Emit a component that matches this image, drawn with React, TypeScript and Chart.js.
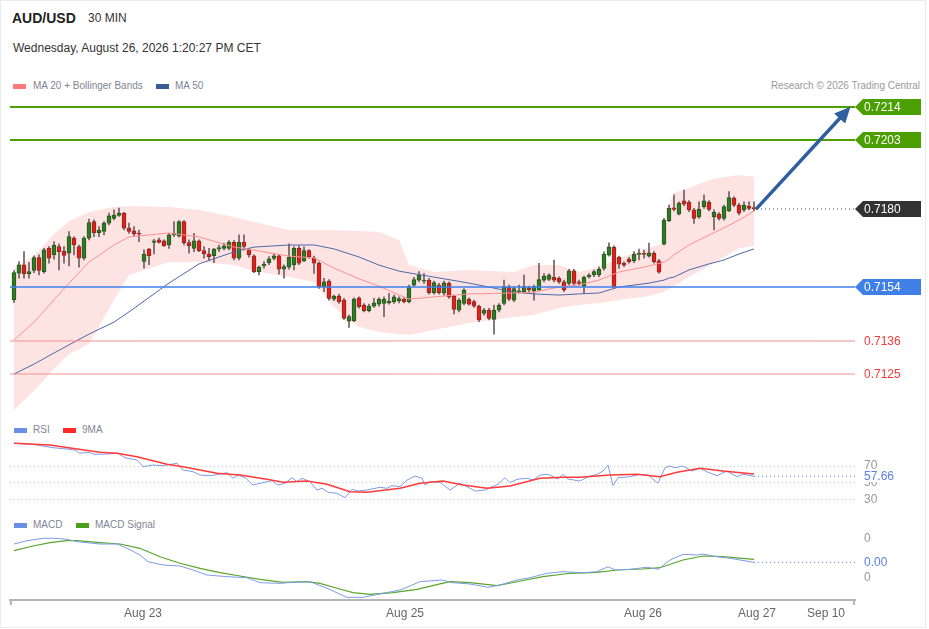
import React, { useEffect, useRef } from "react";
import { Chart, registerables } from "chart.js";

Chart.register(...registerables);

const FONT = "'Liberation Sans', Arial, Helvetica, sans-serif";
Chart.defaults.font.family = FONT;

// ---------------- data ----------------
const candleOpen = [
  0.71497, 0.71586, 0.71614, 0.71584, 0.71595, 0.71638, 0.71591, 0.71669, 0.71647, 0.71675,
  0.7166, 0.71653, 0.71703, 0.71675, 0.71636, 0.71703, 0.71758, 0.71721, 0.71725, 0.71753,
  0.71769, 0.71779, 0.71786, 0.71736, 0.71727, 0.7172, 0.71625, 0.71666, 0.71689, 0.71697,
  0.71694, 0.7168, 0.71714, 0.7171, 0.71758, 0.71688, 0.71669, 0.71694, 0.71661, 0.7165,
  0.71644, 0.71666, 0.71669, 0.71669, 0.71689, 0.71636, 0.71689, 0.71664, 0.71644, 0.71591,
  0.7161, 0.71621, 0.71635, 0.71644, 0.71599, 0.71606, 0.71614, 0.71669, 0.71627, 0.71661,
  0.71637, 0.71619, 0.71541, 0.7156, 0.71499, 0.7151, 0.71496, 0.71426, 0.71427, 0.71504,
  0.7148, 0.71461, 0.71476, 0.71483, 0.71485, 0.71487, 0.71491, 0.71494, 0.715, 0.71491,
  0.71546, 0.71563, 0.71559, 0.71563, 0.71521, 0.71546, 0.71519, 0.71552, 0.7151, 0.71463,
  0.71485, 0.71499, 0.71491, 0.71476, 0.71452, 0.71463, 0.71432, 0.71463, 0.71485, 0.71539,
  0.71496, 0.71524, 0.71524, 0.71537, 0.71527, 0.7153, 0.71563, 0.71565, 0.71572, 0.71569,
  0.71557, 0.71552, 0.71594, 0.71557, 0.71543, 0.71574, 0.7158, 0.7158, 0.71602, 0.71646,
  0.71672, 0.71639, 0.71619, 0.71632, 0.71628, 0.71649, 0.7165, 0.71643, 0.71652, 0.71627,
  0.71683, 0.71761, 0.71804, 0.71783, 0.71827, 0.71822, 0.71797, 0.71774, 0.71808, 0.71822,
  0.71774, 0.71783, 0.71769, 0.71794, 0.71836, 0.71813, 0.71797, 0.7181, 0.71804,
];
const candleHigh = [
  0.71595, 0.71625, 0.71658, 0.71621, 0.71644, 0.71647, 0.71669, 0.71675, 0.71691, 0.71684,
  0.71675, 0.71725, 0.71708, 0.7168, 0.71708, 0.71766, 0.71764, 0.71741, 0.71758, 0.71786,
  0.71797, 0.71803, 0.71789, 0.71753, 0.71741, 0.7173, 0.71664, 0.71669, 0.71699, 0.71703,
  0.71697, 0.71719, 0.71758, 0.71761, 0.71761, 0.71697, 0.71719, 0.71697, 0.71675, 0.71669,
  0.71669, 0.7168, 0.71686, 0.71695, 0.71695, 0.71714, 0.71714, 0.71669, 0.71647, 0.7161,
  0.71625, 0.71641, 0.7165, 0.71647, 0.71614, 0.71684, 0.71675, 0.71677, 0.71674, 0.71665,
  0.71643, 0.71624, 0.71569, 0.71565, 0.71513, 0.71516, 0.71502, 0.71446, 0.71504, 0.71507,
  0.71485, 0.71483, 0.71502, 0.71505, 0.71507, 0.71519, 0.71513, 0.71507, 0.71505, 0.71546,
  0.71572, 0.71591, 0.71585, 0.71569, 0.7156, 0.71552, 0.7156, 0.71557, 0.71513, 0.71501,
  0.71535, 0.71504, 0.71496, 0.7148, 0.71469, 0.71469, 0.7148, 0.71485, 0.71563, 0.71546,
  0.71541, 0.71546, 0.7158, 0.71543, 0.71546, 0.71619, 0.71585, 0.71585, 0.7163, 0.71574,
  0.71563, 0.71599, 0.71599, 0.71563, 0.71576, 0.71585, 0.71596, 0.71607, 0.71657, 0.71687,
  0.71677, 0.71643, 0.71624, 0.71639, 0.71658, 0.71666, 0.71663, 0.71686, 0.71658, 0.71632,
  0.71769, 0.71813, 0.71847, 0.71824, 0.71863, 0.71828, 0.71802, 0.71824, 0.71847, 0.71828,
  0.71797, 0.71788, 0.71813, 0.71858, 0.71841, 0.71819, 0.71824, 0.71824, 0.71824,
];
const candleLow = [
  0.71488, 0.71569, 0.71569, 0.71569, 0.71588, 0.7158, 0.71586, 0.71619, 0.71633, 0.71597,
  0.71619, 0.7161, 0.71647, 0.71606, 0.7163, 0.71697, 0.71708, 0.71708, 0.71714, 0.71747,
  0.71764, 0.71775, 0.7173, 0.71719, 0.7171, 0.71691, 0.71603, 0.71614, 0.7165, 0.71686,
  0.71675, 0.71669, 0.71708, 0.71706, 0.7168, 0.71653, 0.71658, 0.71658, 0.71636, 0.7163,
  0.71621, 0.71658, 0.71664, 0.71664, 0.7163, 0.7163, 0.71664, 0.71639, 0.71588, 0.7158,
  0.71603, 0.71614, 0.7163, 0.71583, 0.71569, 0.71599, 0.71597, 0.71614, 0.71624, 0.71635,
  0.71585, 0.71535, 0.71524, 0.71496, 0.71494, 0.71485, 0.71432, 0.71405, 0.71424, 0.71469,
  0.71457, 0.71457, 0.71472, 0.71476, 0.71441, 0.71483, 0.71485, 0.71487, 0.71487, 0.71487,
  0.71541, 0.71557, 0.71552, 0.71516, 0.71516, 0.71516, 0.71513, 0.71502, 0.7145, 0.71457,
  0.7148, 0.71479, 0.71472, 0.71424, 0.71446, 0.7143, 0.71383, 0.71457, 0.7148, 0.71494,
  0.71491, 0.71519, 0.71519, 0.71524, 0.71496, 0.71527, 0.71557, 0.71561, 0.71557, 0.71552,
  0.71524, 0.71546, 0.71546, 0.71546, 0.71519, 0.71569, 0.71574, 0.71574, 0.71596, 0.71643,
  0.71536, 0.71602, 0.71608, 0.71619, 0.71621, 0.7163, 0.71636, 0.71639, 0.71619, 0.71586,
  0.7168, 0.71758, 0.71794, 0.7178, 0.7181, 0.71791, 0.71752, 0.71769, 0.71802, 0.71794,
  0.7173, 0.71763, 0.71763, 0.71791, 0.71808, 0.7178, 0.71791, 0.71797, 0.71794,
];
const candleClose = [
  0.71588, 0.71614, 0.71584, 0.71591, 0.71638, 0.71595, 0.71664, 0.71636, 0.7168, 0.71658,
  0.71645, 0.71708, 0.7168, 0.71636, 0.71703, 0.71755, 0.71721, 0.7173, 0.71753, 0.71777,
  0.7178, 0.71786, 0.71736, 0.71725, 0.71717, 0.71716, 0.7165, 0.71644, 0.71694, 0.71689,
  0.71678, 0.71714, 0.71719, 0.71758, 0.71688, 0.71677, 0.71694, 0.71661, 0.7165, 0.71641,
  0.71666, 0.71671, 0.71677, 0.71689, 0.71636, 0.71689, 0.71675, 0.71647, 0.71591, 0.71606,
  0.71616, 0.71634, 0.71644, 0.71599, 0.71608, 0.71639, 0.71669, 0.71619, 0.71661, 0.71641,
  0.71619, 0.71541, 0.71557, 0.71502, 0.7151, 0.71491, 0.71435, 0.71441, 0.715, 0.71474,
  0.71461, 0.71476, 0.71487, 0.71499, 0.715, 0.71493, 0.71507, 0.71501, 0.71491, 0.71541,
  0.71565, 0.7158, 0.71563, 0.71521, 0.71555, 0.71521, 0.71554, 0.71507, 0.71465, 0.71496,
  0.7153, 0.71483, 0.71476, 0.7143, 0.71463, 0.71435, 0.71463, 0.7148, 0.71541, 0.71499,
  0.71535, 0.71527, 0.71541, 0.7153, 0.71541, 0.71565, 0.71576, 0.7158, 0.71563, 0.71557,
  0.7153, 0.71594, 0.71552, 0.71552, 0.71572, 0.7158, 0.71591, 0.71599, 0.7165, 0.71674,
  0.71539, 0.71616, 0.71613, 0.71624, 0.7165, 0.71652, 0.71649, 0.71654, 0.71624, 0.71589,
  0.71763, 0.71802, 0.71799, 0.71819, 0.71816, 0.71797, 0.71769, 0.718, 0.71827, 0.71799,
  0.71789, 0.71769, 0.71808, 0.71838, 0.71813, 0.71786, 0.71813, 0.71802, 0.71801,
];

// indicator sample positions (candle index) and values
const bandIdx = [0, 4, 8, 11, 15, 20, 23, 31, 37, 44, 48, 55, 60, 64, 69, 73, 77, 79, 84, 91, 100, 104, 109, 113, 117, 121, 127, 130, 131, 132, 135, 139, 142, 145, 148];
const bbUpper = [0.71603, 0.71643, 0.71717, 0.7176, 0.7179, 0.71807, 0.7181, 0.71807, 0.71797, 0.71773, 0.71757, 0.7173, 0.7173, 0.7173, 0.71727, 0.71723, 0.71697, 0.71613, 0.7159, 0.71597, 0.7159, 0.71613, 0.71613, 0.7159, 0.71607, 0.71637, 0.7167, 0.71687, 0.71813, 0.71853, 0.7187, 0.71897, 0.71907, 0.71913, 0.71907];
const bbLower = [0.7113, 0.71193, 0.71267, 0.71317, 0.7135, 0.71497, 0.7158, 0.71623, 0.71623, 0.71613, 0.71593, 0.71573, 0.71557, 0.71473, 0.71407, 0.7139, 0.71383, 0.7138, 0.71397, 0.7142, 0.7144, 0.71447, 0.7147, 0.7148, 0.71487, 0.71497, 0.7151, 0.71523, 0.71533, 0.71543, 0.71573, 0.7161, 0.7164, 0.7167, 0.71677];
const ma20 = [0.71363, 0.71423, 0.71497, 0.71553, 0.71623, 0.7168, 0.71707, 0.7172, 0.71707, 0.71673, 0.71663, 0.71643, 0.71637, 0.71603, 0.71567, 0.71543, 0.71513, 0.715, 0.71507, 0.71517, 0.7152, 0.71523, 0.7154, 0.71547, 0.71563, 0.7159, 0.7161, 0.71623, 0.71633, 0.71647, 0.7168, 0.71713, 0.71737, 0.71763, 0.71793];
const ma50 = [0.7125, 0.71283, 0.7132, 0.71347, 0.71383, 0.71423, 0.71457, 0.71553, 0.71617, 0.71657, 0.71673, 0.7168, 0.7168, 0.71667, 0.7164, 0.71613, 0.71593, 0.71587, 0.71573, 0.71553, 0.71523, 0.71517, 0.71513, 0.71517, 0.7152, 0.7154, 0.71553, 0.71563, 0.7157, 0.71573, 0.71597, 0.71617, 0.7163, 0.7165, 0.71667];

const targetLevels = [0.7214, 0.7203];
const lastPrice = 0.718;
const pivotLevel = 0.7154;
const supportLevels = [0.7136, 0.7125];
const arrowFrom = { x: 148.6, y: 0.71803 };
const arrowTo = { x: 167.3, y: 0.72141 };

const rsiIdx = [0, 3.8, 5.8, 7.8, 10.6, 12.2, 13.2, 14.8, 16.2, 18.6, 20.8, 22.2, 24.6, 25.8, 27.8, 29.8, 32.6, 33.8, 35.8, 37.2, 39.2, 41.2, 42.6, 43.8, 44.8, 46.2, 47.8, 49.2, 50.6, 51.6, 52.8, 54.2, 55.6, 56.6, 57.6, 59.2, 60.6, 61.6, 62.8, 64.6, 66.2, 67.6, 68.8, 70.6, 73.2, 74.6, 75.6, 77.2, 78.6, 80.2, 81.6, 82.2, 83.2, 85.2, 87.2, 89.2, 90.6, 92.2, 94.2, 95.6, 96.8, 98.2, 99.2, 100.6, 102.6, 103.8, 105.2, 106.8, 108.8, 109.8, 110.8, 113.2, 114.8, 116.6, 117.8, 118.8, 119.8, 120.8, 123.2, 125.2, 126.8, 128.8, 130.2, 131.2, 132.2, 133.8, 135.6, 137.2, 138.8, 140.6, 142.6, 144.6, 145.8, 148];
const rsiVal = [97.3, 96.1, 94.0, 92.0, 90.4, 89.2, 85.3, 86.5, 84.1, 84.4, 85.3, 80.0, 77.2, 69.2, 71.2, 70.4, 73.3, 65.2, 63.2, 59.2, 58.4, 60.4, 62.0, 55.3, 59.2, 56.0, 47.2, 49.3, 51.2, 52.4, 47.2, 49.3, 56.0, 51.2, 55.3, 51.2, 41.2, 43.3, 38.5, 37.3, 32.0, 42.1, 40.0, 41.2, 44.5, 43.3, 46.4, 45.2, 53.2, 58.0, 55.3, 47.2, 51.2, 50.5, 41.2, 49.3, 45.2, 40.0, 41.2, 45.2, 48.1, 56.0, 50.0, 54.1, 55.3, 53.2, 59.2, 60.1, 54.4, 60.1, 54.4, 52.0, 57.2, 60.1, 64.0, 71.2, 46.4, 56.0, 57.2, 60.1, 59.2, 49.3, 68.0, 70.0, 68.0, 70.0, 64.0, 67.3, 62.5, 58.4, 64.0, 57.2, 60.1, 57.66];
const rsiMaIdx = [0, 7.2, 12.6, 17.2, 20.6, 24.6, 30.6, 33.8, 40.6, 45.2, 50.6, 53.8, 58.6, 62.6, 67.2, 70.6, 77.2, 81.2, 85.8, 89.8, 94.6, 99.2, 105.2, 109.8, 113.2, 119.2, 124.6, 129.2, 132.6, 137.2, 141.8, 148];
const rsiMaVal = [97.3, 95.2, 90.4, 86.5, 85.3, 81.2, 72.1, 69.2, 61.3, 59.2, 54.1, 50.5, 52.0, 48.1, 39.2, 38.5, 43.3, 49.3, 52.0, 47.2, 43.3, 46.0, 55.3, 56.5, 56.5, 59.2, 60.1, 57.2, 62.5, 67.3, 64.0, 60.4];
const rsiTicks = [30, 50, 70];

const macdIdx = [0, 2.6, 5.8, 8.2, 10.6, 12.6, 17.2, 20.6, 22.6, 25.2, 26.8, 29.8, 33.2, 35.8, 38.6, 42.6, 46.6, 49.2, 53.2, 55.8, 59.2, 62.6, 66.6, 69.8, 73.8, 77.2, 81.2, 85.6, 87.8, 91.2, 94.8, 97.2, 100.6, 103.2, 106.6, 109.8, 113.8, 116.6, 118.8, 120.2, 123.2, 126.6, 128.8, 131.2, 133.8, 136.6, 137.8, 140.6, 143.2, 148];
const macdVal = [0.000297, 0.000365, 0.000414, 0.000414, 0.000394, 0.000345, 0.000297, 0.000297, 0.000209, 0.000072, -0.000066, -0.000133, -0.000154, -0.000236, -0.000338, -0.000373, -0.000394, -0.000496, -0.000509, -0.000488, -0.000476, -0.000611, -0.000796, -0.000796, -0.000714, -0.000646, -0.000476, -0.000441, -0.000496, -0.000523, -0.000591, -0.000543, -0.000441, -0.000394, -0.000303, -0.000271, -0.000291, -0.000271, -0.000168, -0.000236, -0.000221, -0.00018, -0.000221, -0.000031, 0.000086, 0.000072, 0.000092, 0.000037, 0.000004, -0.000078];
const signalIdx = [0, 3.8, 7.2, 10.6, 12.6, 17.2, 21.2, 25.2, 29.2, 33.2, 37.2, 41.2, 45.2, 49.2, 53.8, 58.6, 61.2, 64.6, 67.8, 71.2, 75.8, 80.6, 85.2, 87.2, 91.2, 96.6, 100.6, 105.8, 111.2, 116.6, 120.6, 125.8, 129.2, 133.8, 137.8, 141.8, 148];
const signalVal = [0.00016, 0.000256, 0.000324, 0.000365, 0.000365, 0.000324, 0.000297, 0.000209, 0.000037, -0.000098, -0.000201, -0.000291, -0.000359, -0.000427, -0.000488, -0.000476, -0.000509, -0.000611, -0.000701, -0.000734, -0.000701, -0.000632, -0.00052, -0.000476, -0.000496, -0.000558, -0.000476, -0.000373, -0.000303, -0.000283, -0.000236, -0.000215, -0.000189, -0.000031, 0.000051, 0.000037, -0.000016];
const macdTicks = [0.0004, -0.0004];

const xTickPos = [25.8, 78.2, 125.8, 148.6, 162.4];
const xTickLabels = ["Aug 23", "Aug 25", "Aug 26", "Aug 27", "Sep 10"];

const X_MIN = -0.8;
const X_MAX = 168.2;
const PRICE_MIN = 0.711233;
const PRICE_MAX = 0.7217;
const RSI_MIN = 17.24;
const RSI_MAX = 106.04;
const MACD_MIN = -0.000851;
const MACD_MAX = 0.000523;

// ---------------- helpers ----------------
const pts = (idx: number[], vals: number[]) => idx.map((x, i) => ({ x, y: vals[i] }));
const hline = (v: number, x0: number = X_MIN, x1: number = X_MAX) => [
  { x: x0, y: v },
  { x: x1, y: v },
];
const lineDs = (data: any, color: string, width: number, order: number, extra: any = {}) => ({
  type: "line",
  data,
  borderColor: color,
  borderWidth: width,
  pointRadius: 0,
  tension: 0,
  fill: false,
  order,
  ...extra,
});

const baseOptions = (extra: any) => ({
  animation: false,
  responsive: false,
  maintainAspectRatio: false,
  events: [],
  plugins: { legend: { display: false }, tooltip: { enabled: false } },
  ...extra,
});

const TAG_RIGHT = 921;

function priceConfig(): any {
  const idx = candleClose.map((_, i) => i);
  const up = (i: number) => candleClose[i] >= candleOpen[i];
  const tagPlugin = {
    id: "priceTags",
    afterDraw(chart: any) {
      const { ctx, chartArea, scales } = chart;
      const y = scales.y;
      const x = scales.x;
      ctx.save();
      const drawTag = (v: number, bg: string) => {
        const py = Math.round(y.getPixelForValue(v));
        const x0 = chartArea.right;
        ctx.fillStyle = bg;
        ctx.beginPath();
        ctx.moveTo(x0, py);
        ctx.lineTo(x0 + 8, py - 8);
        ctx.lineTo(TAG_RIGHT, py - 8);
        ctx.lineTo(TAG_RIGHT, py + 8);
        ctx.lineTo(x0 + 8, py + 8);
        ctx.closePath();
        ctx.fill();
        ctx.fillStyle = "#ffffff";
        ctx.font = `12px ${FONT}`;
        ctx.textBaseline = "middle";
        ctx.textAlign = "left";
        ctx.fillText(v.toFixed(4), x0 + 9, py + 1);
      };
      targetLevels.forEach((v) => drawTag(v, "#4b9f00"));
      drawTag(lastPrice, "#333333");
      drawTag(pivotLevel, "#3f7fe8");
      supportLevels.forEach((v) => {
        const py = Math.round(y.getPixelForValue(v));
        ctx.fillStyle = "#f03c3c";
        ctx.font = `12px ${FONT}`;
        ctx.textBaseline = "middle";
        ctx.fillText(v.toFixed(4), chartArea.right + 9, py + 1);
      });
      // arrow
      const p0 = { x: x.getPixelForValue(arrowFrom.x), y: y.getPixelForValue(arrowFrom.y) };
      const p1 = { x: x.getPixelForValue(arrowTo.x), y: y.getPixelForValue(arrowTo.y) };
      const dx = p1.x - p0.x;
      const dy = p1.y - p0.y;
      const len = Math.hypot(dx, dy);
      const ux = dx / len;
      const uy = dy / len;
      const headLen = 16;
      const headHalf = 7.5;
      const bx = p1.x - ux * headLen;
      const by = p1.y - uy * headLen;
      ctx.strokeStyle = "#2f5f9f";
      ctx.lineWidth = 3.5;
      ctx.lineCap = "round";
      ctx.beginPath();
      ctx.moveTo(p0.x, p0.y);
      ctx.lineTo(bx + ux * 2, by + uy * 2);
      ctx.stroke();
      ctx.fillStyle = "#2f5f9f";
      ctx.beginPath();
      ctx.moveTo(p1.x, p1.y);
      ctx.lineTo(bx - uy * headHalf, by + ux * headHalf);
      ctx.lineTo(bx + uy * headHalf, by - ux * headHalf);
      ctx.closePath();
      ctx.fill();
      ctx.restore();
    },
  };
  return {
    type: "line",
    data: {
      datasets: [
        lineDs(pts(bandIdx, bbUpper), "rgba(0,0,0,0)", 0, 10),
        lineDs(pts(bandIdx, bbLower), "rgba(0,0,0,0)", 0, 10, {
          fill: "-1",
          backgroundColor: "rgba(248,80,80,0.16)",
        }),
        {
          type: "bar",
          data: idx.map((i) => ({ x: i, y: [candleLow[i], candleHigh[i]] })),
          backgroundColor: "#6e5f5f",
          barThickness: 1,
          grouped: false,
          order: 6,
        },
        {
          type: "bar",
          data: idx.map((i) => ({ x: i, y: [candleOpen[i], candleClose[i]] })),
          backgroundColor: idx.map((i) => (up(i) ? "#2c7d22" : "#e61e1a")),
          borderColor: idx.map((i) => (up(i) ? "#27561d" : "#8a2a22")),
          borderWidth: 1,
          borderSkipped: false,
          barThickness: 4,
          minBarLength: 1,
          grouped: false,
          order: 5,
        },
        lineDs(pts(bandIdx, ma20), "#ff8f8f", 1, 4),
        lineDs(pts(bandIdx, ma50), "#4a68a8", 1, 4),
        ...targetLevels.map((v) => lineDs(hline(v), "#4ea000", 2, 2)),
        lineDs(hline(pivotLevel), "#3f80ee", 1.5, 2),
        ...supportLevels.map((v) => lineDs(hline(v), "#f29090", 1, 2)),
        lineDs(hline(lastPrice, arrowFrom.x, X_MAX), "#444444", 1, 2, { borderDash: [1, 3] }),
      ],
    },
    options: baseOptions({
      layout: { padding: { left: 10, right: 74, top: 0, bottom: 0 } },
      scales: {
        x: { type: "linear", min: X_MIN, max: X_MAX, display: false, offset: false },
        y: { type: "linear", min: PRICE_MIN, max: PRICE_MAX, display: false },
      },
    }),
    plugins: [tagPlugin],
  };
}

const valueLabelPlugin = (id: string, value: number, text: string, color: string) => ({
  id,
  afterDraw(chart: any) {
    const { ctx, chartArea, scales } = chart;
    const py = Math.round(scales.y.getPixelForValue(value));
    ctx.save();
    ctx.font = `12px ${FONT}`;
    ctx.textBaseline = "middle";
    ctx.textAlign = "left";
    const w = ctx.measureText(text).width;
    ctx.fillStyle = "#ffffff";
    ctx.fillRect(chartArea.right + 7, py - 6, w + 4, 12);
    ctx.fillStyle = color;
    ctx.fillText(text, chartArea.right + 9, py + 1);
    ctx.restore();
  },
});

// right axis of fixed width, with no extra top/bottom padding
const fixRightAxis = (s: any) => {
  s.width = 74;
  s.paddingTop = 0;
  s.paddingBottom = 0;
};

function rsiConfig(): any {
  const lastX = rsiIdx[rsiIdx.length - 1];
  const lastV = rsiVal[rsiVal.length - 1];
  return {
    type: "line",
    data: {
      datasets: [
        lineDs(pts(rsiIdx, rsiVal), "#7d9ce8", 1, 2),
        lineDs(pts(rsiMaIdx, rsiMaVal), "#ff3a3a", 1.5, 1),
        lineDs(hline(lastV, lastX, X_MAX), "#5b80e8", 1, 3, { borderDash: [1, 3] }),
      ],
    },
    options: baseOptions({
      layout: { padding: { left: 10, right: 0, top: 0, bottom: 0 } },
      scales: {
        x: { type: "linear", min: X_MIN, max: X_MAX, display: false, offset: false },
        y: {
          type: "linear",
          position: "right",
          min: RSI_MIN,
          max: RSI_MAX,
          afterBuildTicks: (s: any) => {
            s.ticks = rsiTicks.map((v) => ({ value: v }));
          },
          afterFit: fixRightAxis,
          ticks: { color: "#999999", font: { size: 12 }, padding: 9, callback: (v: any) => String(v) },
          grid: { color: "#c4c4c4", drawTicks: false, lineWidth: 1 },
          border: { display: false, dash: [1, 3] },
        },
      },
    }),
    plugins: [valueLabelPlugin("rsiLast", lastV, lastV.toFixed(2), "#5b80e8")],
  };
}

function macdConfig(): any {
  const lastX = macdIdx[macdIdx.length - 1];
  const lastV = macdVal[macdVal.length - 1];
  const endTicks = {
    id: "axisEnds",
    afterDraw(chart: any) {
      const { ctx, chartArea } = chart;
      ctx.save();
      ctx.strokeStyle = "#b5b5b5";
      ctx.lineWidth = 2;
      ctx.beginPath();
      ctx.moveTo(chartArea.left + 1, chartArea.bottom);
      ctx.lineTo(chartArea.left + 1, chartArea.bottom + 5);
      ctx.moveTo(chartArea.right - 1, chartArea.bottom);
      ctx.lineTo(chartArea.right - 1, chartArea.bottom + 5);
      ctx.stroke();
      ctx.restore();
    },
  };
  return {
    type: "line",
    data: {
      datasets: [
        lineDs(pts(macdIdx, macdVal), "#7d9ce8", 1, 1),
        lineDs(pts(signalIdx, signalVal), "#5aa62a", 1.2, 2),
        lineDs(hline(lastV, lastX, X_MAX), "#5b80e8", 1, 3, { borderDash: [1, 3] }),
      ],
    },
    options: baseOptions({
      layout: { padding: { left: 10, right: 0, top: 0, bottom: 0 } },
      scales: {
        x: {
          type: "linear",
          min: X_MIN,
          max: X_MAX,
          offset: false,
          position: "bottom",
          afterBuildTicks: (s: any) => {
            s.ticks = xTickPos.map((v) => ({ value: v }));
          },
          afterFit: (s: any) => {
            s.height = 29;
            s.paddingLeft = 0;
            s.paddingRight = 0;
          },
          ticks: {
            color: "#666666",
            font: { size: 12 },
            padding: 6,
            maxRotation: 0,
            autoSkip: false,
            callback: (_v: any, i: number) => xTickLabels[i],
          },
          grid: { display: false, drawTicks: false },
          border: { display: true, color: "#b5b5b5", width: 2 },
        },
        y: {
          type: "linear",
          position: "right",
          min: MACD_MIN,
          max: MACD_MAX,
          afterBuildTicks: (s: any) => {
            s.ticks = macdTicks.map((v) => ({ value: v }));
          },
          afterFit: fixRightAxis,
          ticks: {
            color: "#999999",
            font: { size: 12 },
            padding: 9,
            callback: (v: any) => String(Math.round(Number(v))),
          },
          grid: { display: false, drawTicks: false },
          border: { display: false },
        },
      },
    }),
    plugins: [
      valueLabelPlugin("macdLast", lastV, (Math.round(lastV * 100) / 100).toFixed(2), "#5b80e8"),
      endTicks,
    ],
  };
}

// ---------------- component ----------------
const abs = (style: React.CSSProperties): React.CSSProperties => ({ position: "absolute", whiteSpace: "nowrap", ...style });

function Swatch({ left, top, color }: { left: number; top: number; color: string }) {
  return <div style={abs({ left, top, width: 13, height: 5, background: color })} />;
}

export default function App() {
  const priceRef = useRef<HTMLCanvasElement>(null);
  const rsiRef = useRef<HTMLCanvasElement>(null);
  const macdRef = useRef<HTMLCanvasElement>(null);

  useEffect(() => {
    document.body.style.margin = "0";
    const charts = [
      new Chart(priceRef.current as HTMLCanvasElement, priceConfig()),
      new Chart(rsiRef.current as HTMLCanvasElement, rsiConfig()),
      new Chart(macdRef.current as HTMLCanvasElement, macdConfig()),
    ];
    return () => charts.forEach((c) => c.destroy());
  }, []);

  const legendText: React.CSSProperties = { fontSize: 10, color: "#7f8593", lineHeight: "10px" };

  return (
    <div
      style={{
        position: "relative",
        width: 929,
        height: 629,
        overflow: "hidden",
        background: "#ffffff",
        fontFamily: FONT,
      }}
    >
      <div style={abs({ left: 0, top: 0, width: 924, height: 626, border: "1px solid #e8ecf1" })} />
      <div style={abs({ left: 12, top: 11, fontSize: 14, fontWeight: 700, color: "#222", lineHeight: "14px" })}>AUD/USD</div>
      <div style={abs({ left: 88, top: 12, fontSize: 12, color: "#333", lineHeight: "12px" })}>30 MIN</div>
      <div style={abs({ left: 13, top: 42, fontSize: 12, color: "#333", lineHeight: "12px" })}>
        Wednesday, August 26, 2026 1:20:27 PM CET
      </div>

      <Swatch left={13} top={84} color="#ff7a7a" />
      <div style={abs({ left: 33, top: 81, ...legendText })}>MA 20 + Bollinger Bands</div>
      <Swatch left={156} top={84} color="#3a5a98" />
      <div style={abs({ left: 175, top: 81, ...legendText })}>MA 50</div>
      <div style={abs({ right: 9, top: 81, ...legendText, color: "#9a9a9a" })}>Research © 2026 Trading Central</div>

      <canvas ref={priceRef} width={929} height={314} style={{ position: "absolute", left: 0, top: 98, width: 929, height: 314 }} />

      <Swatch left={14} top={428} color="#6a8fe6" />
      <div style={abs({ left: 33, top: 425, ...legendText })}>RSI</div>
      <Swatch left={63} top={428} color="#ff2a2a" />
      <div style={abs({ left: 82, top: 425, ...legendText })}>9MA</div>
      <canvas ref={rsiRef} width={929} height={74} style={{ position: "absolute", left: 0, top: 436, width: 929, height: 74 }} />

      <Swatch left={14} top={523} color="#6a8fe6" />
      <div style={abs({ left: 33, top: 520, ...legendText })}>MACD</div>
      <Swatch left={76} top={523} color="#4a9e1c" />
      <div style={abs({ left: 95, top: 520, ...legendText })}>MACD Signal</div>
      <canvas ref={macdRef} width={929} height={96} style={{ position: "absolute", left: 0, top: 533, width: 929, height: 96 }} />
    </div>
  );
}
